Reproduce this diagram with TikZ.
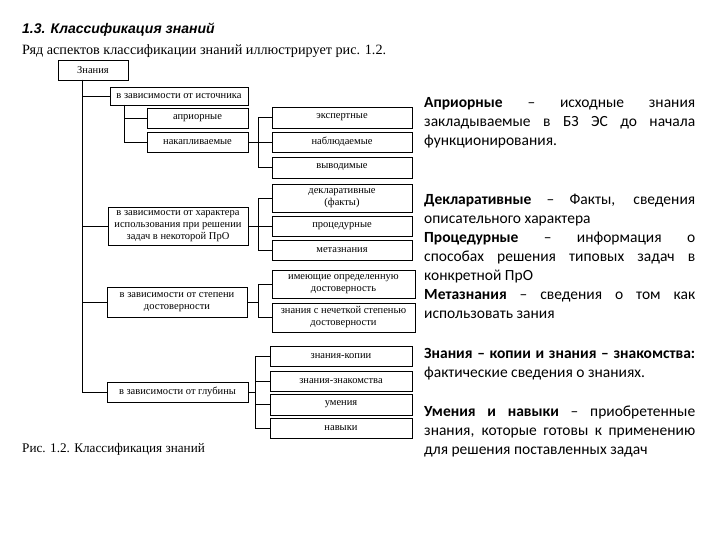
\documentclass[tikz,border=0pt]{standalone}
\usepackage{fontspec}
\setmainfont{Liberation Serif}
\newfontfamily\notefont{Carlito}
\newfontfamily\headfont{Liberation Sans}
\begin{document}
\begin{tikzpicture}[x=1pt,y=-1pt,
	box/.style={draw,thick,inner sep=1pt,align=center,font=\fontsize{10.5}{12}\selectfont},
	note/.style={anchor=base west,inner sep=0pt,text width=271pt,align=justify,font=\notefont\fontsize{15.5}{19}\selectfont}]
	\useasboundingbox (0,0) rectangle (720,540);
	\node[anchor=base west,inner sep=0pt,font=\headfont\bfseries\itshape\fontsize{14}{16}\selectfont] (title) at (22,34) {1.3. Классификация знаний};
	\node[anchor=base west,inner sep=0pt,font=\fontsize{14.2}{16}\selectfont] (intro) at (22,55) {Ряд аспектов классификации знаний иллюстрирует рис. 1.2.};
	\node[anchor=base west,inner sep=0pt,font=\fontsize{13.2}{15}\selectfont] (caption) at (22,452) {Рис. 1.2. Классификация знаний};
	
	\node[box,minimum width=70pt,minimum height=20pt] (zn) at (93,70) {Знания};
	\node[box,minimum width=138pt,minimum height=18pt] (src) at (179,96) {в зависимости от источника};
	\node[box,minimum width=101pt,minimum height=20pt] (apr) at (197.5,118) {априорные};
	\node[box,minimum width=101pt,minimum height=20pt] (nak) at (197.5,142) {накапливаемые};
	\node[box,minimum width=140pt,minimum height=21pt] (exp) at (342,117.5) {экспертные};
	\node[box,minimum width=140pt,minimum height=20pt] (nab) at (342,142) {наблюдаемые};
	\node[box,minimum width=140pt,minimum height=21pt] (vyv) at (342,167.5) {выводимые};
	
	\node[box,minimum width=140pt,minimum height=38pt] (use) at (178,226) {в зависимости от характера\\использования при решении\\задач в некоторой ПрО};
	\node[box,minimum width=140pt,minimum height=28pt] (decl) at (342,198) {декларативные\\(факты)};
	\node[box,minimum width=140pt,minimum height=20pt] (proc) at (342,226) {процедурные};
	\node[box,minimum width=140pt,minimum height=20pt] (meta) at (342,250) {метазнания};
	
	\node[box,minimum width=140pt,minimum height=30pt] (dost) at (177,302) {в зависимости от степени\\достоверности};
	\node[box,minimum width=143pt,minimum height=28pt] (have) at (343.5,284) {имеющие определенную\\достоверность};
	\node[box,minimum width=143pt,minimum height=29pt] (fuzzy) at (343.5,317.5) {знания с нечеткой степенью\\достоверности};
	
	\node[box,minimum width=141pt,minimum height=20pt] (depth) at (177.5,392) {в зависимости от глубины};
	\node[box,minimum width=142pt,minimum height=20pt] (copy) at (341,356) {знания-копии};
	\node[box,minimum width=142pt,minimum height=20pt] (acq) at (341,381) {знания-знакомства};
	\node[box,minimum width=142pt,minimum height=21pt] (umen) at (341,404.5) {умения};
	\node[box,minimum width=142pt,minimum height=20pt] (nav) at (341,428) {навыки};
	
	% trunk and branches
	\coordinate (t) at (82,80);
	\draw (t) |- (src.west);
	\draw (t) |- (use.west);
	\draw (t) |- (dost.west);
	\draw (t) |- (depth.west);
	\coordinate (s) at (124,105);
	\draw (s) |- (apr.west);
	\draw (s) |- (nak.west);
	\coordinate (k) at (258,142);
	\draw (nak.east) -- (k);
	\draw (k) |- (exp.west);
	\draw (k) |- (vyv.west);
	\draw (k) -- (nab.west);
	\coordinate (u) at (258,226);
	\draw (use.east) -- (u);
	\draw (u) |- (decl.west);
	\draw (u) |- (meta.west);
	\draw (u) -- (proc.west);
	\coordinate (d) at (258,302);
	\draw (dost.east) -- (d);
	\draw (d) |- (have.west);
	\draw (d) |- (fuzzy.west);
	\coordinate (g) at (255,392);
	\draw (depth.east) -- (g);
	\draw (g) |- (copy.west);
	\draw (g) |- (nav.west);
	\draw (g) |- (acq.west);
	\draw (g) |- (umen.west);
	
	\node[note] (n1) at (424,108) {\textbf{Априорные} – исходные знания\linebreak закладываемые в БЗ ЭС до начала\linebreak функционирования.};
	\node[note] (n2) at (424,205) {\textbf{Декларативные} – Факты, сведения\linebreak описательного характера\par
		\textbf{Процедурные} – информация о\linebreak способах решения типовых задач в\linebreak конкретной ПрО\par
		\textbf{Метазнания} – сведения о том как\linebreak использовать зания};
	\node[note] (n3) at (424,358) {\textbf{Знания – копии и знания – знакомства:}\linebreak фактические сведения о знаниях.};
	\node[note] (n4) at (424,416) {\textbf{Умения и навыки} – приобретенные\linebreak знания, которые готовы к применению\linebreak для решения поставленных задач};
\end{tikzpicture}
\end{document}
